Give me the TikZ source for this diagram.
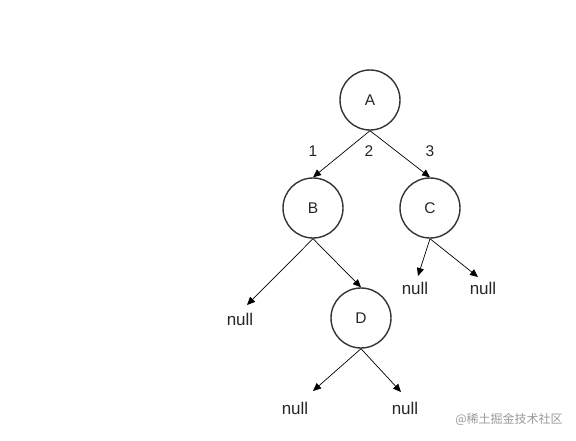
\documentclass[tikz,border=0pt]{standalone}
\usepackage{fontspec}
\setmainfont{Liberation Sans}
\newfontfamily\cjk{Noto Sans CJK SC}
\usetikzlibrary{arrows.meta}
\begin{document}
\begin{tikzpicture}[x=1pt,y=-1pt,
  tnode/.style={circle,draw=black!80,line width=1.4pt,minimum size=60pt,inner sep=0pt,font=\fontsize{15.5}{17}\selectfont,text=black!85},
  nulltxt/.style={font=\fontsize{17}{19}\selectfont,text=black!85,inner sep=0pt},
  edgelbl/.style={font=\fontsize{15.5}{17}\selectfont,text=black!85,inner sep=0pt},
  link/.style={line width=0.7pt,-{Triangle[length=8pt,width=7pt]}}]
\useasboundingbox (0,0) rectangle (576,440);
\node[tnode] (A) at (370,100) {A};
\node[tnode] (B) at (313,208) {B};
\node[tnode] (C) at (430,208) {C};
\node[tnode] (D) at (361,318) {D};
\node[nulltxt] (n1) at (240,319) {null};
\node[nulltxt] (n2) at (415,288) {null};
\node[nulltxt] (n3) at (483,288) {null};
\node[nulltxt] (n4) at (295,408) {null};
\node[nulltxt] (n5) at (405,408) {null};
\coordinate (t1) at (247,305);
\coordinate (t2) at (418,276);
\coordinate (t3) at (478,277);
\coordinate (t4) at (313,391);
\coordinate (t5) at (401,392);
\draw[link] (A.south) -- (B.north);
\draw[link] (A.south) -- (C.north);
\draw[link] (B.south) -- (t1);
\draw[link] (B.south) -- (D.north);
\draw[link] (C.south) -- (t2);
\draw[link] (C.south) -- (t3);
\draw[link] (D.south) -- (t4);
\draw[link] (D.south) -- (t5);
\node[edgelbl] (l1) at (313,151) {1};
\node[edgelbl] (l2) at (369,151) {2};
\node[edgelbl] (l3) at (430,151) {3};
\node[font=\cjk\fontsize{12}{14}\selectfont,text=black!40,inner sep=0pt] (wm) at (509,419) {@稀土掘金技术社区};
\end{tikzpicture}
\end{document}
